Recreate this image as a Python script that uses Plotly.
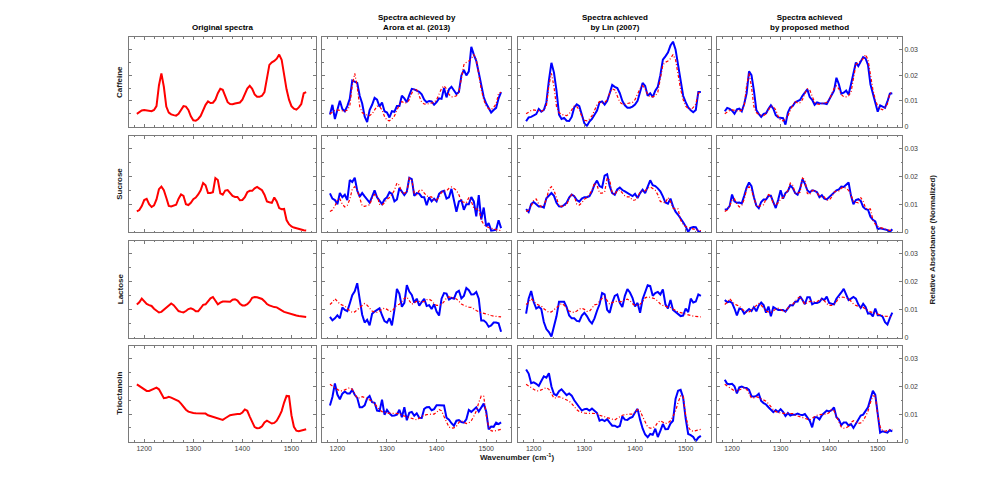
import plotly.graph_objects as go

# ---------------- data ----------------
wavenumber = list(range(1185, 1531, 5))   # cm^-1 sampling grid
SCALE = 1e-3                                # values below are absorbance x 10^3

compounds = ["Caffeine", "Sucrose", "Lactose", "Trioctanoin"]
col_titles = ["Original spectra",
              "Spectra achieved by<br>Arora et al. (2013)",
              "Spectra achieved<br>by Lin (2007)",
              "Spectra achieved<br>by proposed method"]

caffeine_original = [5.0, 5.8, 6.3, 6.5, 6.4, 6.2, 6.0, 6.5, 8.0, 16.0, 20.7, 15.5, 7.8, 5.5, 4.8, 4.5, 4.3, 5.0, 6.5, 8.0,
                     7.8, 6.5, 4.0, 2.5, 2.3, 3.0, 4.2, 6.3, 8.5, 9.8, 9.2, 9.3, 10.5, 13.0, 14.7, 14.3, 12.0, 9.5, 8.8, 8.7,
                     9.0, 9.2, 9.4, 10.5, 12.5, 14.8, 15.9, 14.7, 12.5, 11.6, 11.6, 12.0, 13.4, 19.0, 24.0, 25.0, 25.5, 26.4, 28.0, 26.0,
                     19.5, 14.5, 10.5, 8.0, 7.0, 6.6, 7.5, 8.8, 13.0, 13.4]
caffeine_arora = [4.7, 8.5, 3.0, 7.0, 10.1, 6.9, 6.0, 8.0, 10.8, 17.9, 17.5, 17.0, 12.0, 9.0, 4.0, 1.8, 6.5, 8.5, 11.2, 10.5,
                  7.8, 9.4, 6.0, 5.5, 3.6, 6.0, 5.8, 8.0, 8.0, 12.0, 11.0, 9.5, 12.3, 14.7, 14.5, 14.0, 13.5, 12.6, 10.5, 9.5,
                  10.0, 9.8, 8.5, 9.5, 11.0, 10.8, 15.0, 11.4, 14.5, 15.5, 14.0, 12.7, 13.5, 19.9, 22.0, 19.9, 21.5, 31.0, 28.0, 25.5,
                  21.0, 16.0, 11.5, 9.0, 7.5, 5.5, 6.5, 7.3, 11.0, 13.4]
caffeine_lin = [2.1, 3.6, 3.8, 4.2, 4.9, 6.9, 5.8, 6.5, 9.5, 18.0, 24.8, 21.0, 14.0, 4.7, 3.0, 3.4, 2.3, 2.2, 3.8, 7.5,
                8.7, 8.0, 4.5, 1.3, 0.3, 2.0, 3.0, 4.5, 6.3, 9.5, 9.8, 8.6, 10.0, 13.0, 16.2, 15.5, 15.0, 13.0, 10.0, 8.3,
                7.4, 7.4, 7.8, 8.6, 10.0, 13.5, 17.0, 15.8, 12.0, 13.0, 11.5, 14.0, 15.5, 20.0, 26.0, 27.3, 28.8, 31.5, 33.0, 30.0,
                24.0, 18.5, 12.0, 9.5, 7.5, 6.4, 5.6, 6.5, 13.5, 13.5]
caffeine_proposed = [6.0, 7.3, 6.9, 6.2, 5.0, 6.7, 7.0, 6.0, 8.8, 13.0, 21.5, 20.0, 14.0, 6.5, 5.0, 3.8, 5.0, 5.2, 7.0, 8.3,
                     7.0, 4.5, 3.6, 3.4, 3.3, 0.8, 5.5, 7.5, 8.0, 9.5, 9.8, 10.4, 12.0, 13.5, 14.5, 11.5, 10.4, 8.5, 9.4, 9.1,
                     9.1, 9.0, 8.8, 10.5, 12.0, 14.0, 19.0, 16.5, 12.8, 13.2, 14.0, 12.5, 16.5, 20.5, 24.9, 23.5, 25.6, 27.0, 26.5, 24.0,
                     16.5, 12.8, 9.0, 5.8, 8.3, 7.8, 7.3, 9.8, 12.8, 13.0]

sucrose_original = [7.4, 7.9, 9.3, 11.5, 11.9, 10.0, 9.0, 9.6, 11.7, 15.4, 16.3, 15.0, 12.3, 9.4, 9.2, 9.5, 9.8, 12.0, 13.5, 13.0,
                    10.0, 9.7, 10.5, 11.8, 12.4, 13.5, 15.0, 17.6, 16.8, 14.0, 14.0, 14.3, 19.4, 18.7, 13.9, 13.4, 14.9, 15.1, 14.0, 13.0,
                    12.6, 12.6, 11.4, 11.5, 12.5, 14.3, 14.8, 14.8, 15.7, 16.2, 15.6, 15.0, 13.4, 11.0, 10.7, 10.5, 12.4, 11.0, 8.6, 8.2,
                    8.3, 4.3, 2.8, 2.0, 1.6, 1.3, 1.0, 0.7, 0.6, 0.5]
sucrose_arora = [13.9, 12.0, 11.5, 10.0, 14.0, 12.5, 13.4, 11.5, 18.7, 18.0, 19.5, 14.9, 12.7, 14.0, 12.8, 11.5, 10.6, 12.7, 15.0, 12.5,
                 11.4, 10.0, 11.7, 12.5, 14.3, 13.7, 11.0, 11.7, 15.8, 14.3, 13.3, 14.5, 19.5, 19.0, 13.0, 14.0, 13.8, 12.6, 12.5, 9.6,
                 12.5, 11.0, 12.0, 11.0, 13.7, 14.5, 14.8, 12.0, 12.5, 15.5, 11.5, 7.3, 11.0, 11.4, 8.0, 10.0, 10.0, 12.6, 11.0, 5.6,
                 13.3, 4.5, 8.8, 2.0, 3.2, 0.5, 0.6, 0.8, 4.2, 1.4]
sucrose_lin = [8.2, 7.2, 10.0, 10.8, 10.0, 9.2, 9.2, 8.8, 12.1, 13.2, 14.0, 13.0, 10.5, 9.2, 9.1, 9.7, 10.5, 12.4, 13.5, 12.9,
               11.5, 10.9, 12.0, 12.5, 12.5, 12.9, 14.5, 17.0, 18.5, 16.5, 16.0, 20.3, 20.8, 16.5, 14.0, 13.4, 15.3, 16.0, 15.1, 14.6,
               14.0, 13.3, 12.9, 13.7, 12.2, 14.0, 15.2, 14.0, 16.0, 18.6, 16.8, 16.5, 15.7, 14.6, 12.8, 10.6, 10.2, 12.0, 9.2, 7.3,
               6.2, 5.0, 3.5, 2.0, 0.0, 1.5, 1.8, 1.7, 0.2, 0.0]
sucrose_proposed = [8.0, 8.2, 9.3, 13.5, 11.0, 10.5, 10.6, 10.3, 13.0, 16.0, 17.8, 16.5, 12.5, 9.5, 8.6, 10.8, 11.7, 11.7, 13.0, 13.0,
                    10.7, 8.6, 11.6, 15.0, 12.0, 14.0, 14.7, 16.7, 15.8, 14.0, 13.4, 15.5, 19.0, 17.4, 15.0, 14.2, 15.0, 14.8, 14.3, 12.5,
                    13.2, 12.0, 11.7, 12.6, 13.4, 14.1, 15.0, 15.3, 16.3, 16.2, 17.0, 17.8, 13.0, 10.0, 11.5, 11.8, 11.2, 9.0, 8.2, 8.0,
                    5.5, 4.4, 3.8, 1.0, 1.3, 1.1, 0.8, 0.7, 0.0, 1.0]

lactose_original = [11.9, 12.7, 14.0, 13.2, 12.1, 11.7, 11.4, 10.4, 9.6, 9.1, 9.3, 10.1, 10.9, 11.7, 12.3, 11.7, 10.5, 9.6, 9.3, 9.1,
                    9.6, 10.3, 10.6, 10.2, 9.5, 9.5, 10.6, 11.8, 12.0, 13.0, 14.1, 14.6, 13.4, 12.0, 12.6, 13.0, 13.0, 13.0, 12.9, 13.6,
                    13.8, 13.3, 12.2, 11.6, 11.6, 12.0, 12.9, 14.3, 14.6, 14.5, 14.3, 13.9, 13.1, 12.1, 11.6, 11.2, 11.0, 10.9, 10.2, 9.8,
                    9.3, 9.0, 8.7, 8.5, 8.2, 8.0, 7.8, 7.7, 7.6, 7.5]
lactose_arora = [7.5, 6.3, 7.0, 8.1, 7.0, 10.9, 10.0, 9.6, 12.3, 15.2, 16.6, 19.5, 13.8, 8.3, 5.5, 6.5, 4.5, 8.6, 9.4, 10.0,
                 10.6, 8.1, 6.0, 5.5, 7.0, 4.5, 10.0, 17.5, 15.7, 11.1, 12.5, 18.8, 16.5, 15.3, 12.6, 14.0, 11.5, 12.8, 13.9, 11.4,
                 11.7, 10.3, 12.0, 9.4, 8.0, 14.0, 16.0, 15.8, 13.7, 14.3, 14.0, 16.2, 16.8, 14.1, 15.0, 17.8, 17.0, 15.5, 15.6, 16.4,
                 14.0, 6.2, 6.2, 5.5, 4.0, 4.5, 5.5, 5.5, 5.2, 2.2]
lactose_lin = [8.7, 14.0, 16.7, 12.8, 10.5, 11.1, 10.3, 5.7, 3.2, 2.1, 0.5, 4.3, 7.7, 12.9, 12.9, 12.9, 11.0, 8.0, 7.0, 7.0,
               6.1, 5.9, 8.0, 9.0, 7.8, 6.2, 5.2, 7.0, 9.7, 12.0, 16.0, 15.5, 10.0, 9.0, 12.5, 15.0, 15.5, 12.5, 11.0, 15.0,
               17.4, 16.2, 14.3, 11.2, 12.5, 9.0, 13.8, 16.5, 18.8, 18.5, 15.0, 16.0, 16.4, 15.5, 17.3, 12.0, 10.5, 13.5, 10.0, 9.3,
               8.7, 7.8, 8.0, 10.5, 9.2, 14.0, 12.6, 13.0, 15.5, 15.0]
lactose_proposed = [13.5, 12.7, 13.0, 12.5, 10.5, 8.0, 10.5, 10.2, 8.7, 9.4, 10.3, 9.6, 11.0, 9.5, 11.6, 12.6, 11.7, 9.0, 11.2, 7.7,
                    11.0, 10.5, 10.0, 10.0, 10.0, 9.4, 10.6, 11.7, 11.6, 12.9, 13.0, 14.8, 13.5, 12.0, 14.5, 14.5, 12.0, 12.5, 12.5, 12.8,
                    14.0, 13.5, 14.7, 12.5, 12.2, 12.0, 14.0, 15.0, 16.2, 17.5, 15.5, 13.5, 14.0, 14.6, 14.0, 12.0, 10.7, 12.2, 11.0, 8.7,
                    8.8, 7.7, 10.5, 8.1, 8.1, 7.6, 5.6, 4.8, 7.1, 9.0]

trioctanoin_original = [20.8, 20.2, 19.5, 18.9, 18.4, 18.4, 18.9, 19.3, 19.6, 19.0, 17.6, 15.8, 15.9, 16.3, 16.0, 15.5, 15.0, 14.7, 13.8, 12.5,
                        11.6, 10.9, 10.6, 10.4, 10.3, 10.3, 10.3, 10.4, 10.2, 9.6, 9.3, 9.1, 8.8, 8.4, 8.1, 7.9, 8.5, 9.1, 9.6, 9.8,
                        10.0, 10.0, 10.0, 10.6, 11.7, 11.2, 9.1, 7.2, 5.3, 4.9, 5.0, 5.6, 7.0, 7.6, 7.0, 6.6, 6.8, 7.6, 9.2, 11.1,
                        14.2, 16.6, 16.5, 9.6, 5.4, 4.0, 3.8, 4.0, 4.2, 4.5]
trioctanoin_arora = [13.1, 16.2, 21.1, 17.1, 15.4, 17.4, 18.2, 17.5, 17.5, 18.8, 17.0, 15.9, 12.5, 12.5, 13.2, 15.7, 16.6, 14.3, 14.1, 11.3,
                     11.1, 15.2, 9.8, 11.5, 10.3, 9.4, 9.5, 9.8, 11.6, 8.9, 12.5, 7.8, 10.5, 10.8, 9.4, 10.3, 8.7, 8.6, 11.9, 12.5,
                     12.6, 11.4, 11.8, 13.2, 13.2, 13.2, 13.1, 8.7, 8.0, 6.7, 5.8, 7.6, 7.8, 7.1, 6.9, 8.1, 11.5, 10.8, 11.5, 12.5,
                     10.9, 12.2, 13.8, 11.0, 4.5, 5.5, 5.4, 6.9, 6.4, 7.0]
trioctanoin_lin = [26.2, 24.7, 21.2, 21.5, 21.0, 20.2, 22.0, 23.7, 23.2, 24.8, 20.0, 17.3, 16.8, 18.3, 19.0, 18.1, 16.9, 17.5, 16.7, 15.0,
                   13.6, 12.5, 11.3, 11.8, 11.9, 11.3, 12.0, 11.2, 10.4, 7.6, 8.0, 7.5, 8.2, 6.9, 5.8, 5.8, 5.3, 5.7, 9.2, 8.0,
                   7.9, 8.6, 9.0, 10.6, 11.9, 8.0, 4.8, 2.6, 1.6, 2.8, 2.5, 4.7, 1.7, 3.9, 6.4, 4.5, 4.6, 6.6, 7.6, 15.5,
                   18.5, 18.8, 16.0, 8.4, 2.8, 2.4, 1.7, 0.2, 1.5, 2.1]
trioctanoin_proposed = [22.5, 21.0, 20.8, 21.0, 20.1, 17.5, 19.7, 20.0, 19.6, 19.5, 18.8, 16.5, 16.3, 16.6, 17.4, 14.8, 14.0, 13.5, 12.5, 11.5,
                        10.7, 11.5, 10.8, 11.8, 10.8, 9.3, 10.4, 9.5, 9.8, 9.8, 10.2, 9.8, 9.6, 10.0, 9.0, 7.6, 5.2, 8.9, 8.9, 8.1,
                        9.6, 10.5, 11.3, 11.0, 11.4, 12.4, 8.9, 8.0, 6.0, 7.0, 7.0, 5.8, 6.4, 5.0, 6.5, 8.0, 9.5, 9.8, 11.0, 12.5,
                        15.5, 18.5, 17.0, 9.0, 3.3, 3.8, 3.6, 3.3, 4.2, 3.7]

originals = [caffeine_original, sucrose_original, lactose_original, trioctanoin_original]
reconstructions = [
    [caffeine_arora, caffeine_lin, caffeine_proposed],
    [sucrose_arora, sucrose_lin, sucrose_proposed],
    [lactose_arora, lactose_lin, lactose_proposed],
    [trioctanoin_arora, trioctanoin_lin, trioctanoin_proposed],
]

x_range = [1169, 1550]
y_range = [0, 0.0347]

# ---------------- layout geometry (pixels in the screenshot) ----------------
W, H = 997, 496
PAGE = 8   # default page margin of the html body
col_px = [(129, 316), (322, 511), (518, 711), (717, 902)]
row_px = [(37.3, 126.7), (135.5, 232.0), (240.5, 338.0), (346.0, 441.7)]

def fx(px):
    return (px - PAGE) / W

def fy(py):
    return 1 - (py - PAGE) / H

FONT = "Liberation Sans, Arial, Helvetica, sans-serif"
AX = "#7a7a7a"
TICKFONT = dict(family=FONT, size=7, color="#404040")
DASHDOT = "3px,2px,1px,2px"

fig = go.Figure()
layout = dict(
    width=W, height=H,
    margin=dict(l=0, r=0, t=0, b=0),
    paper_bgcolor="white", plot_bgcolor="white",
    showlegend=False,
    font=dict(family=FONT, size=8, color="black"),
)

def scaled(vals):
    return [v * SCALE for v in vals]

for r in range(4):
    for c in range(4):
        idx = r * 4 + c + 1
        xn = "x" if idx == 1 else f"x{idx}"
        yn = "y" if idx == 1 else f"y{idx}"
        if c == 0:
            fig.add_trace(go.Scatter(x=wavenumber, y=scaled(originals[r]), mode="lines",
                                     line=dict(color="#ff0000", width=2), xaxis=xn, yaxis=yn,
                                     hoverinfo="skip"))
        else:
            fig.add_trace(go.Scatter(x=wavenumber, y=scaled(reconstructions[r][c - 1]), mode="lines",
                                     line=dict(color="#0000ff", width=2), xaxis=xn, yaxis=yn,
                                     hoverinfo="skip"))
            fig.add_trace(go.Scatter(x=wavenumber, y=scaled(originals[r]), mode="lines",
                                     line=dict(color="#ff0000", width=1.2, dash=DASHDOT),
                                     xaxis=xn, yaxis=yn, hoverinfo="skip"))
        x0, x1 = col_px[c]
        t0, t1 = row_px[r]
        xkey = "xaxis" if idx == 1 else f"xaxis{idx}"
        ykey = "yaxis" if idx == 1 else f"yaxis{idx}"
        layout[xkey] = dict(
            domain=[fx(x0), fx(x1)], anchor=yn, range=x_range,
            tickmode="linear", tick0=1200, dtick=100,
            showticklabels=(r == 3), tickfont=TICKFONT,
            ticks="inside", ticklen=3, tickwidth=1, tickcolor=AX,
            minor=dict(ticks="inside", ticklen=1.5, tickwidth=1, tickcolor=AX, dtick=20, tick0=1200, showgrid=False),
            showline=True, linecolor=AX, linewidth=1, mirror="ticks",
            showgrid=False, zeroline=False, automargin=False, fixedrange=True,
        )
        layout[ykey] = dict(
            domain=[fy(t1), fy(t0)], anchor=xn, range=y_range,
            tickmode="linear", tick0=0, dtick=0.01,
            side="right" if c == 3 else "left",
            showticklabels=(c == 3), tickfont=TICKFONT,
            ticks="inside", ticklen=3, tickwidth=1, tickcolor=AX,
            minor=dict(ticks="inside", ticklen=1.5, tickwidth=1, tickcolor=AX, dtick=0.005, tick0=0, showgrid=False),
            showline=True, linecolor=AX, linewidth=1, mirror="ticks",
            showgrid=False, zeroline=False, automargin=False, fixedrange=True,
        )

annotations = []
for c, title in enumerate(col_titles):
    x0, x1 = col_px[c]
    annotations.append(dict(text=f"<b>{title}</b>", x=fx((x0 + x1) / 2), y=fy(34),
                            xref="paper", yref="paper", xanchor="center", yanchor="bottom",
                            showarrow=False, font=dict(family=FONT, size=8, color="black")))
for r, name in enumerate(compounds):
    t0, t1 = row_px[r]
    annotations.append(dict(text=f"<b>{name}</b>", x=fx(120), y=fy((t0 + t1) / 2),
                            xref="paper", yref="paper", xanchor="center", yanchor="middle",
                            textangle=-90, showarrow=False,
                            font=dict(family=FONT, size=8, color="#202020")))
annotations.append(dict(text="<b>Wavenumber (cm<sup>-1</sup>)</b>", x=fx(517), y=fy(457),
                        xref="paper", yref="paper", xanchor="center", yanchor="middle",
                        showarrow=False, font=dict(family=FONT, size=8, color="#202020")))
annotations.append(dict(text="<b>Relative Absorbance (Normalized)</b>", x=fx(932), y=fy(239.5),
                        xref="paper", yref="paper", xanchor="center", yanchor="middle",
                        textangle=-90, showarrow=False,
                        font=dict(family=FONT, size=8, color="#202020")))
layout["annotations"] = annotations

fig.update_layout(**layout)
fig.write_html("out.html")
